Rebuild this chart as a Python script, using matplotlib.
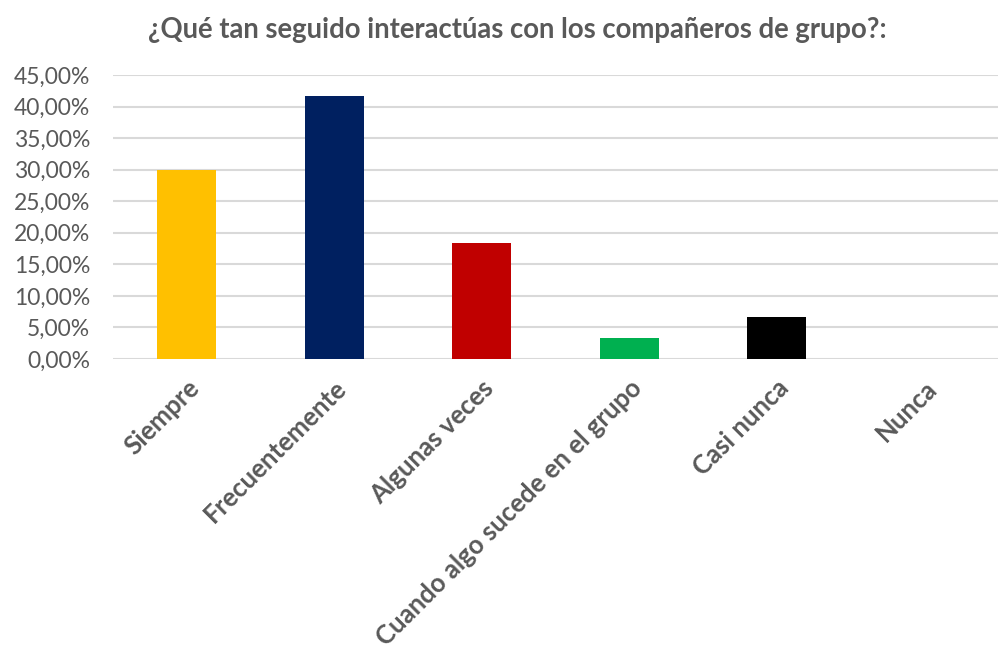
import matplotlib
matplotlib.use("Agg")
import matplotlib.pyplot as plt
from matplotlib.ticker import FuncFormatter, MultipleLocator

categories = ["Siempre", "Frecuentemente", "Algunas veces",
              "Cuando algo sucede en el grupo", "Casi nunca", "Nunca"]
values = [30.00, 41.67, 18.33, 3.33, 6.67, 0.00]
colors = ["#FFC000", "#002060", "#C00000", "#00B050", "#000000", "#FFFFFF"]
title = "¿Qué tan seguido interactúas con los compañeros de grupo?:"

plt.rcParams['font.family'] = ['Lato', 'DejaVu Sans']
gray = "#595959"

fig = plt.figure(figsize=(9.99, 6.52), dpi=100)
ax = fig.add_axes([113/999, 1-359/652, (998-113)/999, (359-75)/652])

x = range(len(categories))
ax.bar(x, values, width=0.4, color=colors, zorder=3)
ax.set_xlim(-0.5, len(categories)-0.5)
ax.set_ylim(0, 45)
ax.yaxis.set_major_locator(MultipleLocator(5))
ax.yaxis.set_major_formatter(FuncFormatter(lambda v, p: f"{v:.2f}%".replace(".", ",")))
ax.grid(axis='y', color="#D9D9D9", linewidth=1.5, zorder=0)
for s in ax.spines.values():
    s.set_visible(False)
ax.tick_params(axis='both', length=0, colors=gray)
ax.tick_params(axis='y', pad=16.5, labelsize=16.5)
ax.set_xticks(list(x))
ax.set_xticklabels(categories, rotation=45, ha='right', va='top',
                   rotation_mode='anchor', fontweight='bold', fontsize=18.5, color=gray)
ax.tick_params(axis='x', pad=12)

fig.text(517/999, 1-30/652, title, ha='center', va='center',
         fontsize=19.8, fontweight='bold', color=gray)

fig.savefig("out.png", dpi=100)
